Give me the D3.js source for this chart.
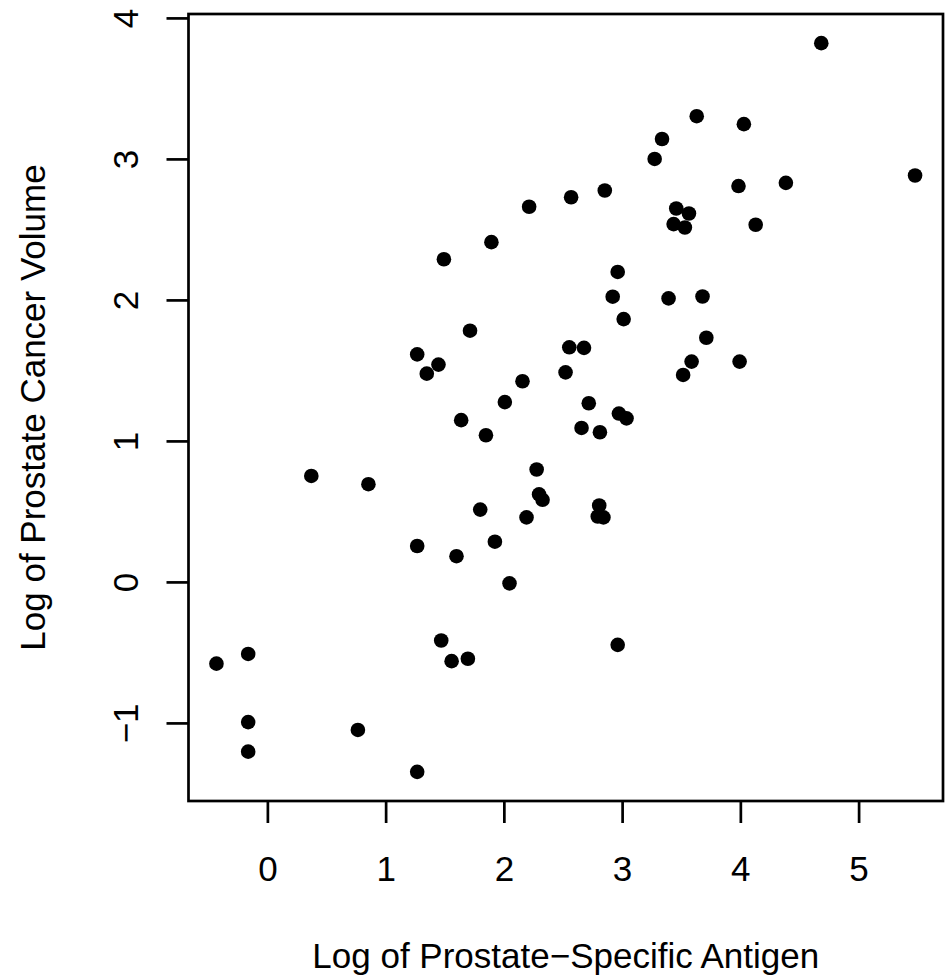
<!DOCTYPE html>
<html>
<head>
<meta charset="utf-8">
<script src="https://cdn.jsdelivr.net/npm/d3@7"></script>
<style>
  html, body { margin: 0; padding: 0; background: #ffffff; }
  svg { display: block; }
  text { font-family: "Liberation Sans", Arial, Helvetica, sans-serif; fill: #000; }
</style>
</head>
<body>
<svg id="chart" width="948" height="979"></svg>
<script>
// Log of Prostate-Specific Antigen (lpsa), training observations
const lpsa = [
  -0.4307829, -0.1625189, -0.1625189, -0.1625189, 0.3715636, 0.7654678, 0.8544153,
  1.2669476, 1.2669476, 1.2669476, 1.3480731, 1.4469190, 1.4701758, 1.4929041,
  1.5581446, 1.5993876, 1.6389967, 1.6956156, 1.7137979, 1.8000583, 1.8484548,
  1.8946169, 1.9242487, 2.0082140, 2.0476928, 2.1575593, 2.1916535, 2.2137539,
  2.2772673, 2.2975726, 2.3272777, 2.5217206, 2.5533438, 2.5687881, 2.6567569,
  2.6775910, 2.7180005, 2.7942279, 2.8063861, 2.8124102, 2.8419982, 2.8535925,
  2.9204698, 2.9626924, 2.9626924, 2.9729753, 3.0130809, 3.0373539, 3.2752562,
  3.3375474, 3.3928291, 3.4355988, 3.4578927, 3.5307626, 3.5160131, 3.5652984,
  3.5876769, 3.6309855, 3.6800909, 3.7123518, 3.9843437, 3.9936030, 4.0298060,
  4.1295508, 4.3851468, 4.6844434, 5.4775090
];
// Log of Prostate Cancer Volume (lcavol)
const lcavol = [
  -0.5798185, -0.5108256, -0.9942523, -1.2039728, 0.7514161, -1.0498221, 0.6931472,
  0.2546422, -1.3470736, 1.6134299, 1.4770487, 1.5411591, -0.4155154, 2.2884862,
  -0.5621189, 0.1823216, 1.1474025, -0.5447272, 1.7817445, 0.5128236, 1.0402767,
  2.4096442, 0.2851789, 1.2753628, -0.0100503, 1.4231083, 0.4574248, 2.6609586,
  0.7975072, 0.6205765, 0.5822156, 1.4861397, 1.6639261, 2.7278528, 1.0919233,
  1.6601310, 1.2669476, 0.4637340, 0.5423243, 1.0612565, 0.4574248, 2.7757088,
  2.0228712, 2.1983351, -0.4462871, 1.1939225, 1.8640801, 1.1600209, 2.9997411,
  3.1411305, 2.0108950, 2.5376572, 2.6483002, 2.5136561, 1.4678743, 2.6130067,
  1.5623463, 3.3028493, 2.0241931, 1.7316555, 2.8075938, 1.5623463, 3.2464910,
  2.5329028, 2.8302678, 3.8210036, 2.8825636
];
const xTicks = [0, 1, 2, 3, 4, 5];
const yTicks = [-1, 0, 1, 2, 3, 4];
const xTitle = "Log of Prostate\u2212Specific Antigen";
const yTitle = "Log of Prostate Cancer Volume";

const points = lpsa.map((v, i) => ({ x: v, y: lcavol[i] }));

const box = { left: 188.5, right: 943, top: 14, bottom: 801 };
const FS = 35;
const LW = 2.7;

function padExtent(arr) {
  const [a, b] = d3.extent(arr);
  const p = (b - a) * 0.04;
  return [a - p, b + p];
}

const x = d3.scaleLinear().domain(padExtent(lpsa)).range([box.left, box.right]);
const y = d3.scaleLinear().domain(padExtent(lcavol)).range([box.bottom, box.top]);

const svg = d3.select("#chart");
svg.append("rect").attr("width", 948).attr("height", 979).attr("fill", "#fff");

// points
svg.append("g").selectAll("circle").data(points).join("circle")
  .attr("cx", d => x(d.x)).attr("cy", d => y(d.y))
  .attr("r", 7.3).attr("fill", "#000");

// x axis
const fmt = d => (d < 0 ? "\u2212" + Math.abs(d) : String(d));
const gx = svg.append("g").attr("transform", `translate(0,${box.bottom})`)
  .call(d3.axisBottom(x).tickValues(xTicks).tickFormat(fmt).tickSize(22).tickSizeOuter(0));
gx.select(".domain").remove();
gx.selectAll(".tick line").attr("stroke", "#000").attr("stroke-width", LW);
gx.selectAll(".tick text").attr("y", 80).attr("dy", null)
  .attr("font-size", FS).attr("font-family", "Liberation Sans, Arial, sans-serif").attr("fill", "#000");

// y axis
const gy = svg.append("g").attr("transform", `translate(${box.left},0)`)
  .call(d3.axisLeft(y).tickValues(yTicks).tickFormat(fmt).tickSize(22).tickSizeOuter(0));
gy.select(".domain").remove();
gy.selectAll(".tick line").attr("stroke", "#000").attr("stroke-width", LW);
gy.selectAll(".tick text").attr("x", null).attr("dy", null)
  .attr("text-anchor", "middle")
  .attr("transform", "translate(-51,0) rotate(-90)")
  .attr("font-size", FS).attr("font-family", "Liberation Sans, Arial, sans-serif").attr("fill", "#000");

// box
svg.append("rect")
  .attr("x", box.left).attr("y", box.top)
  .attr("width", box.right - box.left).attr("height", box.bottom - box.top)
  .attr("fill", "none").attr("stroke", "#000").attr("stroke-width", LW);

// titles
svg.append("text")
  .attr("x", (box.left + box.right) / 2).attr("y", 968)
  .attr("text-anchor", "middle").attr("font-size", FS)
  .text(xTitle);
svg.append("text")
  .attr("transform", `translate(45,${(box.top + box.bottom) / 2}) rotate(-90)`)
  .attr("text-anchor", "middle").attr("font-size", FS)
  .text(yTitle);
</script>
</body>
</html>
